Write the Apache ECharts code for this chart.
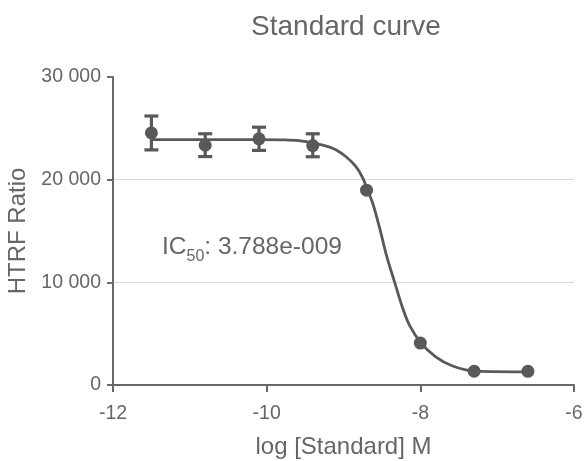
<!DOCTYPE html>
<html>
<head>
<meta charset="utf-8">
<script src="https://cdn.jsdelivr.net/npm/echarts@6/dist/echarts.min.js"></script>
<style>html,body{margin:0;padding:0;background:#fff}#c{width:585px;height:461px}</style>
</head>
<body>
<div id="c"></div>
<script>
// Measured points (log concentration, mean HTRF ratio)
var logX = [-11.5, -10.8, -10.1, -9.4, -8.7, -8.0, -7.3, -6.6];
var meanY = [24550, 23350, 23980, 23320, 18980, 4080, 1340, 1330];
// Error bar ends (null where no visible bar)
var errLow = [22900, 22250, 22850, 22230, null, null, null, null];
var errHigh = [26200, 24470, 25110, 24470, null, null, null, null];
// Fitted curve
var curveX = [-11.5, -10.8, -10.1, -9.8, -9.58, -9.36, -9.19, -9.10, -8.97, -8.84, -8.75, -8.69, -8.62, -8.53, -8.44, -8.33, -8.23, -8.14, -7.99, -7.80, -7.58, -7.29, -6.58];
var curveY = [23900, 23900, 23900, 23880, 23800, 23520, 23200, 22910, 22260, 21290, 20170, 19030, 17700, 15300, 12600, 9900, 7500, 5800, 4080, 2750, 1850, 1350, 1280];
// Tick labels
var xTicks = [-12, -10, -8, -6];
var xTickLabels = ['-12', '-10', '-8', '-6'];
var yTicks = [0, 10000, 20000, 30000];
var yTickLabels = ['0', '10 000', '20 000', '30 000'];

var markColor = '#595959';
var textColor = '#666666';
var axisColor = '#696969';
var fontFam = '"Liberation Sans", Arial, sans-serif';

var pts = logX.map(function (x, i) { return [x, meanY[i]]; });
var errData = [];
logX.forEach(function (x, i) {
  if (errLow[i] != null) errData.push([x, errLow[i], errHigh[i]]);
});
var curve = curveX.map(function (x, i) { return [x, curveY[i]]; });

var chart = echarts.init(document.getElementById('c'), null, {renderer: 'canvas'});
chart.setOption({
  animation: false,
  backgroundColor: '#fff',
  title: {
    text: 'Standard curve',
    left: 341, top: 8, textAlign: 'center',
    textStyle: {fontFamily: fontFam, fontSize: 28, fontWeight: 'normal', color: textColor}
  },
  grid: {left: 113, right: 11, top: 77, bottom: 76, containLabel: false, outerBoundsMode: 'none'},
  xAxis: {
    type: 'value', min: -12, max: -6, interval: 2,
    name: 'log [Standard] M', nameLocation: 'middle', nameGap: 50,
    nameTextStyle: {fontFamily: fontFam, fontSize: 24, color: textColor},
    axisLine: {show: true, onZero: false, lineStyle: {color: axisColor, width: 2}},
    axisTick: {show: true, length: 7, lineStyle: {color: axisColor, width: 2}},
    axisLabel: {
      fontFamily: fontFam, fontSize: 19.5, color: textColor, margin: 19,
      formatter: function (v) { var i = xTicks.indexOf(v); return i >= 0 ? xTickLabels[i] : ''; }
    },
    splitLine: {show: false}
  },
  yAxis: {
    type: 'value', min: 0, max: 30000, interval: 10000,
    name: 'HTRF Ratio', nameLocation: 'middle', nameGap: 77,
    nameTextStyle: {fontFamily: fontFam, fontSize: 24, color: textColor},
    axisLine: {show: true, lineStyle: {color: axisColor, width: 2}},
    axisTick: {show: true, length: 6, lineStyle: {color: axisColor, width: 2}},
    axisLabel: {
      fontFamily: fontFam, fontSize: 19.5, color: textColor, margin: 12,
      formatter: function (v) { var i = yTicks.indexOf(v); return i >= 0 ? yTickLabels[i] : ''; }
    },
    splitLine: {show: true, showMinLine: false, showMaxLine: false, lineStyle: {color: '#d9d9d9', width: 1}}
  },
  series: [
    {
      type: 'line', data: curve, smooth: 0.35, showSymbol: false, symbol: 'none',
      lineStyle: {color: markColor, width: 2.8}, z: 2
    },
    {
      type: 'custom', data: errData, z: 3,
      renderItem: function (params, api) {
        var x = api.value(0);
        var lo = api.coord([x, api.value(1)]);
        var hi = api.coord([x, api.value(2)]);
        var hw = 7;
        var st = {stroke: markColor, lineWidth: 3.2};
        return {
          type: 'group',
          children: [
            {type: 'line', shape: {x1: lo[0], y1: lo[1], x2: hi[0], y2: hi[1]}, style: st},
            {type: 'line', shape: {x1: lo[0] - hw, y1: lo[1], x2: lo[0] + hw, y2: lo[1]}, style: st},
            {type: 'line', shape: {x1: hi[0] - hw, y1: hi[1], x2: hi[0] + hw, y2: hi[1]}, style: st}
          ]
        };
      }
    },
    {
      type: 'scatter', data: pts, symbol: 'circle', symbolSize: 13, z: 4,
      itemStyle: {color: markColor, opacity: 1}
    }
  ],
  graphic: [
    {
      type: 'text', left: 162, top: 235, z: 10,
      style: {
        text: '{a|IC}{b|50}{a|: 3.788e-009}',
        rich: {
          a: {fontFamily: fontFam, fontSize: 24.5, fill: textColor, lineHeight: 30, verticalAlign: 'top'},
          b: {fontFamily: fontFam, fontSize: 16, fill: textColor, lineHeight: 30, verticalAlign: 'bottom', padding: [12, 0, 0, 0]}
        }
      }
    }
  ]
});
</script>
</body>
</html>
